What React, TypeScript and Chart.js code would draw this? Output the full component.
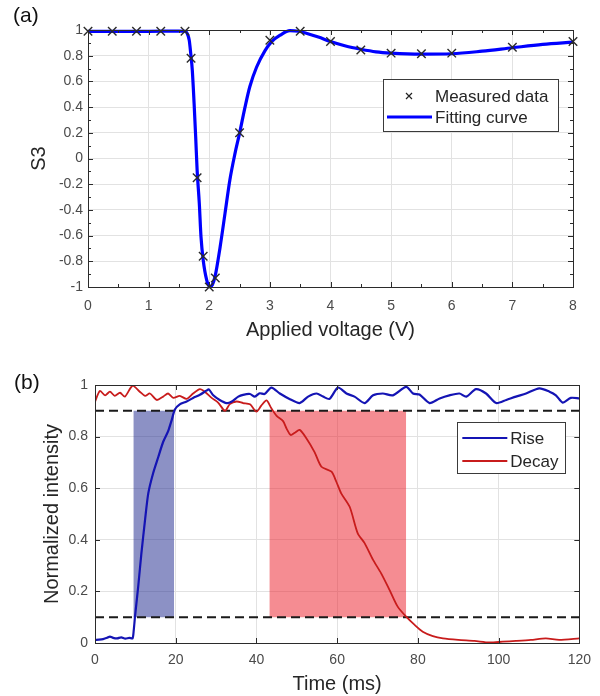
import React, { useEffect, useRef } from 'react';
import { Chart, registerables } from 'chart.js';

Chart.register(...registerables);

// ---------- Panel (a) data ----------
const measuredV = [0, 0.4, 0.8, 1.2, 1.6, 1.7, 1.8, 1.9, 2.0, 2.1, 2.5, 3.0, 3.5, 4.0, 4.5, 5.0, 5.5, 6.0, 7.0, 8.0];
const measuredS3 = [0.99, 0.99, 0.99, 0.99, 0.99, 0.78, -0.15, -0.76, -1.0, -0.93, 0.2, 0.92, 0.99, 0.91, 0.845, 0.82, 0.815, 0.82, 0.865, 0.91];

const fitV = [0, 0.5, 1.0, 1.5, 1.6, 1.64, 1.67, 1.694, 1.72, 1.75, 1.776, 1.8, 1.836, 1.864, 1.9, 1.958, 2.01, 2.05, 2.095, 2.18, 2.26, 2.34, 2.425, 2.5, 2.59, 2.67, 2.78, 2.92, 3.03, 3.17, 3.33, 3.47, 3.6, 3.8, 4.0, 4.25, 4.5, 4.75, 5.0, 5.5, 6.0, 6.5, 7.0, 7.5, 8.0];
const fitS3 = [0.99, 0.99, 0.99, 0.992, 0.99, 0.97, 0.92, 0.82, 0.69, 0.43, 0.17, -0.09, -0.35, -0.61, -0.79, -0.946, -0.998, -0.985, -0.92, -0.686, -0.427, -0.167, 0.04, 0.196, 0.4, 0.56, 0.71, 0.84, 0.91, 0.96, 0.995, 0.99, 0.975, 0.945, 0.91, 0.875, 0.85, 0.83, 0.82, 0.812, 0.815, 0.835, 0.862, 0.888, 0.905];

const xTicksA = [0, 1, 2, 3, 4, 5, 6, 7, 8];
const yTicksA = [-1, -0.8, -0.6, -0.4, -0.2, 0, 0.2, 0.4, 0.6, 0.8, 1];

// ---------- Panel (b) data ----------
const riseT = [0, 1, 2, 3, 3.7, 4.5, 5.5, 6.5, 7.5, 8.5, 9.3, 9.6, 9.9, 10.7, 11.5, 12.4, 13.2, 14.4, 15.7, 16.9, 18.1, 19, 19.8, 21, 22.7, 24.3, 26, 27.6, 28.2, 29.3, 30.9, 32.6, 33.8, 35.5, 36.7, 38.4, 39.6, 40.8, 42, 43.7, 45.8, 48.3, 50.7, 52.8, 54.9, 56.5, 58.1, 60.2, 62.3, 64.3, 66.8, 68.9, 71.3, 73.8, 77.1, 78.8, 80.4, 82.9, 85.4, 87.8, 90.3, 92, 94.4, 96.9, 99.4, 101.9, 104.3, 106.8, 110.1, 112.6, 114.2, 115.9, 117.9, 120];
const riseI = [0.012, 0.013, 0.015, 0.02, 0.025, 0.02, 0.018, 0.022, 0.017, 0.02, 0.018, 0.05, 0.1, 0.218, 0.348, 0.477, 0.58, 0.658, 0.722, 0.78, 0.82, 0.864, 0.905, 0.925, 0.936, 0.95, 0.962, 0.978, 0.983, 0.96, 0.942, 0.93, 0.935, 0.955, 0.962, 0.965, 0.955, 0.968, 0.965, 0.99, 0.967, 0.945, 0.93, 0.955, 0.967, 0.955, 0.946, 0.99, 0.967, 0.955, 0.93, 0.96, 0.967, 0.96, 0.993, 0.967, 0.963, 0.93, 0.948, 0.96, 0.967, 0.955, 0.984, 0.967, 0.93, 0.942, 0.955, 0.967, 0.987, 0.974, 0.96, 0.932, 0.95, 0.948];

const decayT = [0, 1.2, 2.5, 3.7, 4.9, 6.2, 7.4, 9.3, 11.1, 12.4, 13.6, 15.3, 16.9, 18.1, 19.4, 21, 22.7, 24.3, 26, 27.2, 28.9, 30.5, 32.2, 33.4, 35.1, 36.7, 38.4, 40, 41.2, 42.5, 43.7, 45, 46.6, 47.5, 48.5, 49.5, 50.7, 52.4, 54.4, 56.1, 58.6, 59.8, 61, 63.1, 65.1, 66.8, 68.9, 70.9, 73, 75, 77.1, 79.2, 81.2, 83.7, 86.2, 90, 94, 97.7, 101, 104.3, 108, 111.7, 115, 120];
const decayI = [0.935, 0.977, 0.96, 0.974, 0.958, 0.97, 0.955, 0.997, 0.974, 0.958, 0.967, 0.942, 0.955, 0.967, 0.95, 0.958, 0.946, 0.967, 0.984, 0.974, 0.95, 0.932, 0.9, 0.926, 0.936, 0.93, 0.925, 0.897, 0.92, 0.94, 0.91, 0.88, 0.86, 0.83, 0.806, 0.815, 0.826, 0.793, 0.74, 0.683, 0.664, 0.625, 0.58, 0.528, 0.425, 0.387, 0.322, 0.27, 0.205, 0.141, 0.102, 0.07, 0.044, 0.027, 0.018, 0.012, 0.008, 0.002, 0.005, 0.008, 0.012, 0.018, 0.012, 0.018];

const thresholds = [0.1, 0.9];
const riseWindow = [9.5, 19.6];
const decayWindow = [43.2, 77.1];
const xTicksB = [0, 20, 40, 60, 80, 100, 120];
const yTicksB = [0, 0.2, 0.4, 0.6, 0.8, 1];

const FONT = '"Liberation Sans", Arial, Helvetica, sans-serif';
const TICK_COLOR = '#4a4a4a';
const TEXT_COLOR = '#262626';
const GRID = '#e2e2e2';

const fmt = (v: number) => String(Number(Number(v).toFixed(1)));

function framePlugin(id: string, opts: { xMinor?: number[]; yMinor?: number[]; major: number; minor: number }) {
  return {
    id,
    afterDraw(chart: any) {
      const { ctx, chartArea: a, scales } = chart;
      ctx.save();
      ctx.strokeStyle = '#2b2b2b';
      ctx.lineWidth = 1;
      ctx.beginPath();
      const xs = scales.x, ys = scales.y;
      const tick = (len: number, xv: number[] | undefined, yv: number[] | undefined) => {
        (xv || []).forEach((v) => {
          const px = Math.round(xs.getPixelForValue(v)) + 0.5;
          ctx.moveTo(px, a.bottom); ctx.lineTo(px, a.bottom - len);
          ctx.moveTo(px, a.top); ctx.lineTo(px, a.top + len);
        });
        (yv || []).forEach((v) => {
          const py = Math.round(ys.getPixelForValue(v)) + 0.5;
          ctx.moveTo(a.left, py); ctx.lineTo(a.left + len, py);
          ctx.moveTo(a.right, py); ctx.lineTo(a.right - len, py);
        });
      };
      tick(opts.major, xs.ticks.map((t: any) => t.value), ys.ticks.map((t: any) => t.value));
      tick(opts.minor, opts.xMinor, opts.yMinor);
      ctx.stroke();
      ctx.strokeRect(Math.round(a.left) + 0.5, Math.round(a.top) + 0.5, Math.round(a.right - a.left), Math.round(a.bottom - a.top));
      ctx.restore();
    },
  };
}

const legendA = {
  id: 'legendA',
  afterDraw(chart: any) {
    const { ctx, chartArea: a } = chart;
    const w = 175, h = 52;
    const x0 = a.right - 15 - w, y0 = a.top + 49;
    ctx.save();
    ctx.fillStyle = '#fff';
    ctx.fillRect(x0, y0, w, h);
    ctx.strokeStyle = '#3a3a3a';
    ctx.lineWidth = 1;
    ctx.strokeRect(Math.round(x0) + 0.5, Math.round(y0) + 0.5, w, h);
    const ds = chart.data.datasets;
    // marker entry
    const mx = x0 + 26, my = y0 + 17;
    ctx.strokeStyle = '#222';
    ctx.lineWidth = 1.2;
    ctx.beginPath();
    ctx.moveTo(mx - 3, my - 3); ctx.lineTo(mx + 3, my + 3);
    ctx.moveTo(mx - 3, my + 3); ctx.lineTo(mx + 3, my - 3);
    ctx.stroke();
    // line entry
    const ly = y0 + 38;
    ctx.strokeStyle = '#0000ff';
    ctx.lineWidth = 3;
    ctx.beginPath();
    ctx.moveTo(x0 + 4, ly); ctx.lineTo(x0 + 49, ly);
    ctx.stroke();
    ctx.fillStyle = TEXT_COLOR;
    ctx.font = `17px ${FONT}`;
    ctx.textBaseline = 'middle';
    ctx.fillText(ds[0].label, x0 + 52, my + 1);
    ctx.fillText(ds[1].label, x0 + 52, ly + 1);
    ctx.restore();
  },
};

const legendB = {
  id: 'legendB',
  afterDraw(chart: any) {
    const { ctx, chartArea: a } = chart;
    const w = 108, h = 51;
    const x0 = a.right - 14 - w, y0 = a.top + 37;
    ctx.save();
    ctx.fillStyle = '#fff';
    ctx.fillRect(x0, y0, w, h);
    ctx.strokeStyle = '#3a3a3a';
    ctx.lineWidth = 1;
    ctx.strokeRect(Math.round(x0) + 0.5, Math.round(y0) + 0.5, w, h);
    const ds = chart.data.datasets;
    const entries = [
      { label: ds[0].label, color: ds[0].borderColor, y: y0 + 16 },
      { label: ds[1].label, color: ds[1].borderColor, y: y0 + 39 },
    ];
    ctx.font = `17px ${FONT}`;
    ctx.textBaseline = 'middle';
    entries.forEach((e) => {
      ctx.strokeStyle = e.color;
      ctx.lineWidth = 2.2;
      ctx.beginPath();
      ctx.moveTo(x0 + 5, e.y); ctx.lineTo(x0 + 50, e.y);
      ctx.stroke();
      ctx.fillStyle = TEXT_COLOR;
      ctx.fillText(e.label, x0 + 53, e.y + 1);
    });
    ctx.restore();
  },
};

const range = (a: number, b: number, s: number) => {
  const out: number[] = [];
  for (let v = a; v <= b + 1e-9; v += s) out.push(Number(v.toFixed(3)));
  return out;
};

export default function App() {
  const refA = useRef<HTMLCanvasElement>(null);
  const refB = useRef<HTMLCanvasElement>(null);

  useEffect(() => {
    const tickFont = { family: FONT, size: 14 };
    const titleFont = { family: FONT, size: 20 };

    const chartA = new Chart(refA.current as HTMLCanvasElement, {
      type: 'line',
      data: {
        datasets: [
          {
            label: 'Measured data',
            data: measuredV.map((x, i) => ({ x, y: measuredS3[i] })),
            showLine: false,
            pointStyle: 'crossRot',
            pointRadius: 6,
            pointBorderColor: '#2a2a2a',
            pointBorderWidth: 1.4,
            borderColor: '#2a2a2a',
            clip: false,
            order: 1,
          } as any,
          {
            label: 'Fitting curve',
            data: fitV.map((x, i) => ({ x, y: fitS3[i] })),
            borderColor: '#0000ff',
            borderWidth: 3.2,
            pointRadius: 0,
            cubicInterpolationMode: 'monotone',
            clip: 3,
            order: 2,
          } as any,
        ],
      },
      options: {
        responsive: false,
        animation: false,
        events: [],
        layout: { padding: { left: 0, right: 27, top: 30, bottom: 0 } },
        plugins: { legend: { display: false }, tooltip: { enabled: false } },
        scales: {
          x: {
            type: 'linear',
            min: 0,
            max: 8,
            afterBuildTicks: (s: any) => { s.ticks = xTicksA.map((v) => ({ value: v })); },
            afterFit: (s: any) => { s.height = 61; },
            grid: { color: GRID, drawTicks: false },
            border: { display: false },
            ticks: { padding: 11, color: TICK_COLOR, font: tickFont, callback: (v: any) => fmt(v) },
            title: { display: true, text: 'Applied voltage (V)', color: TEXT_COLOR, font: titleFont, padding: { top: 0, bottom: 6 } },
          },
          y: {
            type: 'linear',
            min: -1,
            max: 1,
            afterBuildTicks: (s: any) => { s.ticks = yTicksA.map((v) => ({ value: v })); },
            afterFit: (s: any) => { s.width = 88; },
            grid: { color: GRID, drawTicks: false },
            border: { display: false },
            ticks: { padding: 5, color: TICK_COLOR, font: tickFont, callback: (v: any) => fmt(v) },
            title: { display: true, text: 'S3', color: TEXT_COLOR, font: titleFont, padding: { top: 27, bottom: 0 } },
          },
        },
      } as any,
      plugins: [
        framePlugin('frameA', { major: 5, minor: 3, xMinor: range(0.5, 7.5, 1), yMinor: range(-0.9, 0.9, 0.2) }),
        legendA,
      ],
    });

    const xy = (ts: number[], vs: number[]) => ts.map((x, i) => ({ x, y: vs[i] }));

    const chartB = new Chart(refB.current as HTMLCanvasElement, {
      type: 'line',
      data: {
        datasets: [
          {
            label: 'Rise',
            data: xy(riseT, riseI),
            borderColor: '#1414b4',
            borderWidth: 2.2,
            pointRadius: 0,
            tension: 0.25,
            order: 1,
          },
          {
            label: 'Decay',
            data: xy(decayT, decayI),
            borderColor: '#c81c1c',
            borderWidth: 1.8,
            pointRadius: 0,
            tension: 0.25,
            order: 2,
          },
          {
            label: 'upper',
            data: [{ x: 0, y: thresholds[1] }, { x: 120, y: thresholds[1] }],
            borderColor: '#1a1a1a',
            borderWidth: 2,
            borderDash: [9, 5],
            pointRadius: 0,
            order: 3,
          },
          {
            label: 'lower',
            data: [{ x: 0, y: thresholds[0] }, { x: 120, y: thresholds[0] }],
            borderColor: '#1a1a1a',
            borderWidth: 2,
            borderDash: [9, 5],
            pointRadius: 0,
            order: 3,
          },
          {
            label: 'riseWindow',
            data: [{ x: riseWindow[0], y: thresholds[1] }, { x: riseWindow[1], y: thresholds[1] }],
            borderWidth: 0,
            borderColor: 'rgba(0,0,0,0)',
            backgroundColor: 'rgba(25,35,139,0.5)',
            fill: { value: thresholds[0] },
            pointRadius: 0,
            order: 10,
          },
          {
            label: 'decayWindow',
            data: [{ x: decayWindow[0], y: thresholds[1] }, { x: decayWindow[1], y: thresholds[1] }],
            borderWidth: 0,
            borderColor: 'rgba(0,0,0,0)',
            backgroundColor: 'rgba(235,25,37,0.5)',
            fill: { value: thresholds[0] },
            pointRadius: 0,
            order: 10,
          },
        ] as any,
      },
      options: {
        responsive: false,
        animation: false,
        events: [],
        layout: { padding: { left: 0, right: 20, top: 37, bottom: 0 } },
        plugins: { legend: { display: false }, tooltip: { enabled: false } },
        scales: {
          x: {
            type: 'linear',
            min: 0,
            max: 120,
            afterBuildTicks: (s: any) => { s.ticks = xTicksB.map((v) => ({ value: v })); },
            afterFit: (s: any) => { s.height = 53; },
            grid: { color: GRID, drawTicks: false },
            border: { display: false },
            ticks: { padding: 9, color: TICK_COLOR, font: tickFont, callback: (v: any) => fmt(v) },
            title: { display: true, text: 'Time (ms)', color: TEXT_COLOR, font: titleFont, padding: { top: 0, bottom: 0 } },
          },
          y: {
            type: 'linear',
            min: 0,
            max: 1,
            afterBuildTicks: (s: any) => { s.ticks = yTicksB.map((v) => ({ value: v })); },
            afterFit: (s: any) => { s.width = 95; },
            grid: { color: GRID, drawTicks: false },
            border: { display: false },
            ticks: { padding: 7, color: TICK_COLOR, font: tickFont, callback: (v: any) => fmt(v) },
            title: { display: true, text: 'Normalized intensity', color: TEXT_COLOR, font: titleFont, padding: { top: 40, bottom: 0 } },
          },
        },
      } as any,
      plugins: [framePlugin('frameB', { major: 5, minor: 0 }), legendB],
    });

    return () => {
      chartA.destroy();
      chartB.destroy();
    };
  }, []);

  const panelLabel: React.CSSProperties = {
    position: 'absolute',
    fontFamily: FONT,
    fontSize: 21,
    lineHeight: '24px',
    color: '#111',
  };

  return (
    <div style={{ position: 'absolute', left: 0, top: 0, width: 600, height: 696, background: '#fff', overflow: 'hidden' }}>
      <canvas ref={refA} width={600} height={348} style={{ position: 'absolute', left: 0, top: 0 }} />
      <canvas ref={refB} width={600} height={348} style={{ position: 'absolute', left: 0, top: 348 }} />
      <div style={{ ...panelLabel, left: 13, top: 3 }}>(a)</div>
      <div style={{ ...panelLabel, left: 14, top: 370 }}>(b)</div>
    </div>
  );
}
